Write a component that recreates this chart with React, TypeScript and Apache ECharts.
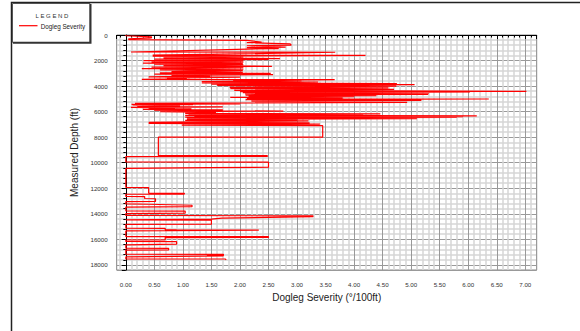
import React, { useEffect, useRef } from "react";
import * as echarts from "echarts";

const seriesName = "Dogleg Severity";
const legendTitle = "L E G E N D";
const xTitle = "Dogleg Severity (°/100ft)";
const yTitle = "Measured Depth (ft)";

// survey points as [dogleg severity °/100ft, measured depth ft], in survey order
const surveysShallow: number[][] = [
  [0, 0], [0, 60], [0.45, 140], [0.45, 220], [0.05, 300], [0.05, 360],
  [2.12, 420], [2.38, 560], [2.12, 600], [2.88, 700], [2.9, 790], [2.12, 840],
  [2.8, 950], [2.12, 990], [2.68, 1060], [2.12, 1100], [0.09, 1330], [3.67, 1350],
  [0.47, 1580], [4.2, 1600], [0.47, 1660],
];

const surveysBuild: number[][] = [
  [0.47, 1700], [2.06, 1720], [0.66, 1790], [2.7, 1850], [0.5, 1890], [2.5, 1910],
  [0.31, 2000], [2.06, 2030], [0.45, 2100], [2.06, 2130], [0.3, 2200], [2.05, 2240],
  [0.5, 2290], [2.06, 2330], [0.66, 2400], [2.56, 2450], [0.45, 2520], [2.06, 2560],
  [0.28, 2640], [2.06, 2680], [0.6, 2740], [2.05, 2780], [0.8, 2860], [2.05, 2900],
  [0.6, 2960], [2.54, 3000], [0.5, 3060], [2.58, 3100], [0.8, 3160], [1.48, 3200],
  [0.4, 3280], [2.0, 3300], [0.72, 3380], [1.07, 3420],
];

const surveysTangent: number[][] = [
  [0.28, 3480], [3.66, 3500], [1.88, 3560], [3.08, 3580], [1.33, 3650], [3.37, 3680],
  [1.33, 3760], [4.75, 3800], [1.5, 3850], [5.06, 3880], [1.6, 3950], [4.74, 4010],
  [1.82, 4100], [4.6, 4140], [1.83, 4200], [4.7, 4260], [1.9, 4330], [7.02, 4420],
  [2.0, 4440], [6.03, 4470], [2.05, 4520], [5.31, 4560], [2.09, 4620], [5.3, 4650],
  [2.1, 4700], [4.39, 4740], [2.15, 4790], [4.0, 4830], [1.83, 4880], [3.8, 4920],
  [2.12, 4960], [6.36, 5010], [2.1, 5060], [5.18, 5120], [2.2, 5180], [4.93, 5270],
];

const surveysDrop: number[][] = [
  [0.16, 5350], [2.0, 5390], [0.1, 5430], [1.18, 5460], [0.12, 5500], [0.95, 5540],
  [0.2, 5580], [1.7, 5620], [0.09, 5660], [0.86, 5700], [0.4, 5740], [1.15, 5780],
  [0.3, 5830], [1.7, 5870], [0.5, 5910], [2.76, 5960], [0.6, 6000], [1.58, 6060],
  [1.04, 6140], [4.46, 6170], [1.1, 6230], [4.16, 6260], [1.04, 6290], [6.15, 6330],
  [1.2, 6360], [5.91, 6400], [1.04, 6430], [5.8, 6460], [1.07, 6500], [5.1, 6540],
  [1.07, 6600], [3.0, 6640], [1.04, 6680], [3.2, 6720], [0.4, 6840], [3.22, 6880],
  [0.4, 6930], [3.4, 6980], [0.98, 7050], [3.45, 7100], [3.45, 8000],
];

const surveysDeep: number[][] = [
  [0.57, 8000], [0.57, 9440], [2.48, 9450], [2.48, 9510], [0, 9530], [0, 9940],
  [2.5, 9960], [2.5, 10350], [1.45, 10390], [0, 10450], [0, 11930], [0.4, 11950],
  [0.4, 12380], [1.03, 12400], [1.02, 12460], [0, 12470], [0, 12640], [0.33, 12650],
  [0.33, 12800], [0.52, 12820], [0.52, 13030], [0, 13050], [0, 13230], [0.4, 13250],
  [0.4, 13300], [1.16, 13330], [1.16, 13440], [0, 13470], [0, 13770], [1.04, 13790],
  [1.04, 13950], [0, 13980], [0, 14130], [3.28, 14160], [3.28, 14220], [1.68, 14340],
  [1.5, 14420], [0, 14470], [0, 14480], [1.5, 14500], [1.5, 14810], [0, 14830],
  [0, 15120], [0.69, 15135], [0.69, 15250], [0.89, 15260], [2.33, 15280], [0, 15340],
  [0, 15780], [2.5, 15790], [2.5, 15850], [0.69, 15860], [0.69, 16040], [0, 16050],
  [0, 16170], [0.89, 16180], [0.89, 16380], [0, 16440], [0, 16690], [0.75, 16700],
  [0.75, 16830], [0, 16840], [0, 17160], [1.71, 17170], [1.71, 17270], [1.42, 17280],
  [1.71, 17290], [0, 17380], [0, 17530], [1.74, 17540], [1.76, 17600],
];

const xMin = -0.16;
const xMax = 7.2;
const xStep = 0.5;
const yMin = 0;
const yMax = 18400;
const yStep = 2000;

const FONT = "'Liberation Sans', Arial, sans-serif";

export default function App() {
  const ref = useRef<HTMLDivElement>(null);

  useEffect(() => {
    document.body.style.margin = "0";
    if (!ref.current) return;
    const chart = echarts.init(ref.current, undefined, { renderer: "svg" });
    const data = [
      ...surveysShallow,
      ...surveysBuild,
      ...surveysTangent,
      ...surveysDrop,
      ...surveysDeep,
    ];
    chart.setOption({
      animation: false,
      backgroundColor: "#fff",
      grid: {
        left: 116.7,
        right: 43.3,
        top: 35,
        bottom: 61,
        show: true,
        borderColor: "#888",
        borderWidth: 1,
        backgroundColor: "transparent",
      },
      xAxis: {
        type: "value",
        min: xMin,
        max: xMax,
        minInterval: xStep,
        maxInterval: xStep,
        splitNumber: 15,
        name: xTitle,
        nameLocation: "middle",
        nameGap: 22,
        nameTextStyle: { fontSize: 10, color: "#222", fontFamily: FONT },
        axisLine: { show: true, lineStyle: { color: "#000", width: 1 } },
        axisTick: { show: true, length: 4, lineStyle: { color: "#000" } },
        minorTick: { show: true, splitNumber: 5, length: 2.5, lineStyle: { color: "#000" } },
        axisLabel: {
          fontSize: 6.2,
          color: "#333",
          fontFamily: FONT,
          margin: 11,
          formatter: (v: number) =>
            Math.abs(v / xStep - Math.round(v / xStep)) < 1e-6 && v > -0.01 ? v.toFixed(2) : "",
        },
        splitLine: { show: true, lineStyle: { color: "#999", width: 1 } },
        minorSplitLine: { show: true, lineStyle: { color: "#d6d6d6", width: 1.5 } },
      },
      yAxis: {
        type: "value",
        inverse: true,
        min: yMin,
        max: yMax,
        interval: yStep,
        name: yTitle,
        nameLocation: "middle",
        nameRotate: 90,
        nameGap: 35,
        nameTextStyle: { fontSize: 10, color: "#222", fontFamily: FONT },
        axisLine: { show: true, lineStyle: { color: "#000", width: 1 } },
        axisTick: { show: true, length: 4, lineStyle: { color: "#000" } },
        minorTick: { show: true, splitNumber: 5, length: 2.5, lineStyle: { color: "#000" } },
        axisLabel: {
          fontSize: 6.2,
          color: "#333",
          fontFamily: FONT,
          margin: 9,
          formatter: (v: number) => (v % yStep === 0 ? String(v) : ""),
        },
        splitLine: { show: true, lineStyle: { color: "#999", width: 1 } },
        minorSplitLine: { show: true, lineStyle: { color: "#d6d6d6", width: 1.5 } },
      },
      series: [
        {
          name: seriesName,
          type: "line",
          data,
          showSymbol: false,
          symbol: "none",
          clip: true,
          lineStyle: { color: "#ff0000", width: 1.2 },
        },
      ],
      graphic: [
        {
          type: "rect",
          silent: true,
          shape: { x: 11.5, y: 2.5, width: 620, height: 400 },
          style: { fill: "none", stroke: "#222", lineWidth: 1.5 },
        },
        {
          type: "rect",
          silent: true,
          shape: { x: 12.5, y: 3.5, width: 77.5, height: 39 },
          style: { fill: "#fff", stroke: "#555", lineWidth: 1 },
        },
        {
          type: "polyline",
          silent: true,
          shape: { points: [[90.5, 4], [90.5, 42.8], [13, 42.8]] },
          style: { fill: "none", stroke: "#333", lineWidth: 2 },
        },
        {
          type: "text",
          silent: true,
          x: 52,
          y: 16,
          style: {
            text: legendTitle,
            fontSize: 6,
            fontFamily: FONT,
            fill: "#333",
            align: "center",
            verticalAlign: "middle",
          },
        },
        {
          type: "line",
          silent: true,
          shape: { x1: 19, y1: 25.7, x2: 37.5, y2: 25.7 },
          style: { stroke: "#ff0000", lineWidth: 1.2 },
        },
        {
          type: "text",
          silent: true,
          x: 40.7,
          y: 26.3,
          style: {
            text: seriesName,
            fontSize: 6.3,
            fontFamily: FONT,
            fill: "#222",
            align: "left",
            verticalAlign: "middle",
          },
        },
      ],
    });
    return () => chart.dispose();
  }, []);

  return (
    <div
      ref={ref}
      style={{ position: "fixed", left: 0, top: 0, width: 580, height: 331 }}
    />
  );
}
